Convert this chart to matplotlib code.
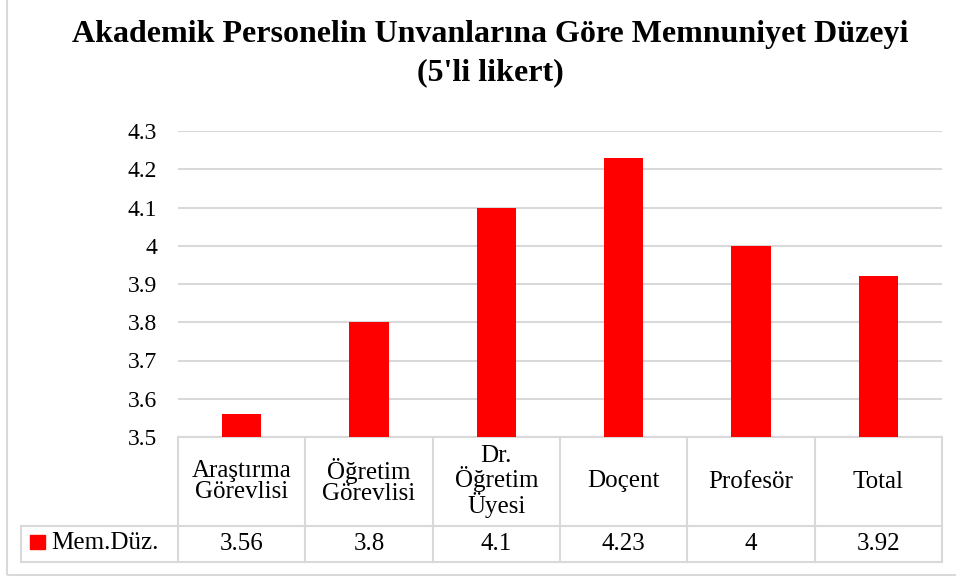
import numpy as np
import matplotlib.pyplot as plt
from matplotlib.patches import Rectangle

plt.rcParams['font.family'] = ['Liberation Serif', 'DejaVu Serif']

# data
categories = ['Araştırma\nGörevlisi', 'Öğretim\nGörevlisi', 'Dr.\nÖğretim\nÜyesi',
              'Doçent', 'Profesör', 'Total']
values = [3.56, 3.8, 4.1, 4.23, 4, 3.92]
value_labels = ['3.56', '3.8', '4.1', '4.23', '4', '3.92']
series_name = 'Mem.Düz.'
yticks = [3.5, 3.6, 3.7, 3.8, 3.9, 4.0, 4.1, 4.2, 4.3]
ytick_labels = ['3.5', '3.6', '3.7', '3.8', '3.9', '4', '4.1', '4.2', '4.3']

W, H = 956, 579
fig = plt.figure(figsize=(W / 100, H / 100), dpi=100)

# outer chart border (top and right edges fall outside the image)
fig.patches.append(Rectangle((7 / W, 1 - 575 / H), 1.0, 1.0,
                             transform=fig.transFigure, fill=False,
                             edgecolor='#d9d9d9', linewidth=1.5))

# plot area
left, right, top, bottom = 178, 942, 131, 437
ax = fig.add_axes([left / W, 1 - bottom / H, (right - left) / W, (bottom - top) / H])
x = np.arange(len(values))
ax.bar(x, values, width=0.31, color='#FF0000', zorder=3)
ax.set_xlim(-0.5, len(values) - 0.5)
ax.set_ylim(3.5, 4.3)
ax.set_yticks(yticks)
ax.set_yticklabels(ytick_labels, fontsize=17)
ax.set_xticks([])
ax.tick_params(axis='y', length=0, pad=15)
for s in ax.spines.values():
    s.set_visible(False)
ax.grid(axis='y', color='#d9d9d9', linewidth=1.5, zorder=0)
ax.set_axisbelow(True)

# data table below the plot
grid_c = '#d9d9d9'
trans = ax.get_xaxis_transform()
h = bottom - top
y_mid = -(526 - bottom) / h
y_bot = -(562 - bottom) / h
x_leg = (21 - left) / ((right - left) / len(values)) - 0.5
n = len(values)
kw = dict(transform=trans, color=grid_c, linewidth=1.5, clip_on=False, zorder=1)
ax.plot([-0.5, n - 0.5], [0, 0], **kw)
ax.plot([x_leg, n - 0.5], [y_mid, y_mid], **kw)
ax.plot([x_leg, n - 0.5], [y_bot, y_bot], **kw)
ax.plot([x_leg, x_leg], [y_mid, y_bot], **kw)
for i in range(n + 1):
    ax.plot([i - 0.5, i - 0.5], [0, y_bot], **kw)

for i in range(n):
    ax.text(x[i], y_mid / 2, categories[i], transform=trans, ha='center', va='center',
            fontsize=18, linespacing=1.0)
    ax.text(x[i], (y_mid + y_bot) / 2, value_labels[i], transform=trans,
            ha='center', va='center', fontsize=18)

# legend key in table
fig.patches.append(Rectangle((30 / W, 1 - 549 / H), 15 / W, 14 / H,
                             transform=fig.transFigure, color='#FF0000'))
fig.text(51 / W, 1 - 543 / H, series_name, ha='left', va='center', fontsize=18)

# title
fig.text(490 / W, 1 - 42 / H, 'Akademik Personelin Unvanlarına Göre Memnuniyet Düzeyi',
         ha='center', va='baseline', fontsize=23, fontweight='bold')
fig.text(490 / W, 1 - 80 / H, "(5'li likert)",
         ha='center', va='baseline', fontsize=23, fontweight='bold')

fig.savefig('out.png', dpi=100)
